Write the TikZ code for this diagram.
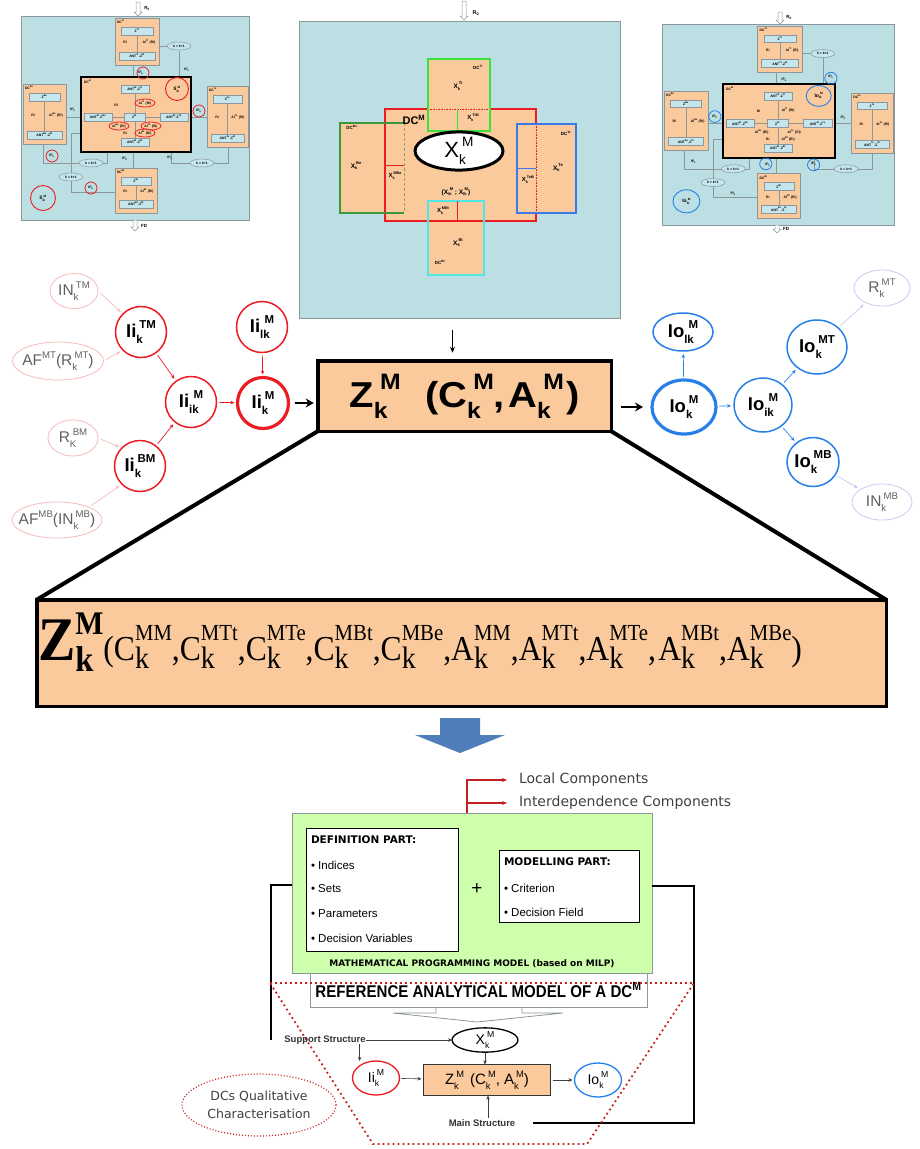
\documentclass[tikz,border=0pt]{standalone}
\usepackage{fontspec}
\usepackage{graphicx}
\setmainfont{Liberation Sans}
\newfontfamily\verd{DejaVu Sans}
\newfontfamily\tms{Liberation Serif}
\usetikzlibrary{shapes.geometric,arrows.meta,calc}

\definecolor{peach}{RGB}{251,202,156}
\definecolor{panel}{RGB}{187,223,227}
\definecolor{cellb}{RGB}{196,230,236}
\definecolor{thgray}{RGB}{140,150,155}
\definecolor{iired}{RGB}{235,28,36}
\definecolor{ioblue}{RGB}{38,128,232}
\definecolor{fpink}{RGB}{246,186,186}
\definecolor{fblue}{RGB}{196,204,240}
\definecolor{fgray}{RGB}{95,95,95}
\definecolor{mint}{RGB}{206,255,172}
\definecolor{barrow}{RGB}{79,126,187}
\definecolor{bracketred}{RGB}{192,32,32}
\definecolor{dotred}{RGB}{200,30,30}
\definecolor{tgreen}{RGB}{60,225,60}
\definecolor{dgreen}{RGB}{60,150,60}
\definecolor{tblue}{RGB}{60,120,230}
\definecolor{tcyan}{RGB}{80,230,230}
\definecolor{olivel}{RGB}{150,160,80}

\newcommand\fsz[1]{\fontsize{#1}{#1}\selectfont}
\newcommand\zb[1]{\makebox[0pt]{#1}}

% base letter with a lowered index and a raised index, both in the text font
\makeatletter
\newdimen\scrd
\newcommand\tss[3]{#1\begingroup
  \scrd=\f@size pt \scrd=0.62\scrd
  \edef\scrs{\strip@pt\scrd}%
  \setbox0\hbox{\fontsize{\scrs}{\scrs}\selectfont #2}%
  \setbox2\hbox{\fontsize{\scrs}{\scrs}\selectfont #3}%
  \rlap{\raisebox{-0.3em}{\copy0}}%
  \kern0.45\wd0
  \raisebox{0.5em}{\copy2}%
  \scrd=0.55\wd0 \ifdim\wd2<\scrd \kern\dimexpr\scrd-\wd2\relax\fi
  \endgroup}
\makeatother
\newcommand\tsp[2]{\tss{#1}{}{#2}}

\tikzset{
  every node/.style={inner sep=0pt, outer sep=0pt},
  thline/.style={draw=thgray, line width=0.5pt},
  thfont/.style={font={\fsz{3.4}\bfseries}},
  thell/.style={ellipse, thline, fill=cellb, minimum width=24pt, minimum height=8pt, thfont},
  iinode/.style={circle, draw=iired, line width=1.5pt, fill=white, minimum size=51pt, font={\fsz{18.5}\bfseries}},
  ionode/.style={ellipse, draw=ioblue, line width=1.5pt, fill=white, font={\fsz{18.5}\bfseries}},
  faintr/.style={ellipse, draw=fpink, line width=0.8pt, text=fgray, font={\fsz{15.5}}},
  faintb/.style={ellipse, draw=fblue, line width=0.8pt, text=fgray, font={\fsz{15.5}}},
  redarr/.style={draw=iired, line width=0.7pt, -{Stealth[length=4pt,width=3.5pt]}, shorten <=3pt, shorten >=3pt},
  pinkarr/.style={redarr, draw=fpink},
  bluearr/.style={redarr, draw=ioblue},
  lbarr/.style={redarr, draw=fblue},
  blkarr/.style={draw=black, line width=2.4pt, -{Stealth[length=8pt,width=9pt]}},
  smarr/.style={draw=black!75, line width=0.6pt, -{Stealth[length=4pt,width=3.5pt]}},
  bulletitem/.style={anchor=west, font={\fsz{11.5}}},
  parttitle/.style={anchor=west, font={\verd\bfseries\fsz{10.5}}},
}

% one decision centre unit of the small overview panels
\newcommand\dcunit[5]{%
  \draw[thline,fill=peach] (#1,#2) rectangle (#3,#4);
  \node[thfont,anchor=north west] at (#1+2,#2+2) {DC\textsuperscript{#5}};
  \draw[thline] ({(#1+#3)/2},#2+17) -- ({(#1+#3)/2},#4-13);
  \draw[thline,fill=cellb] (#1+6,#2+9) rectangle (#3-6,#2+17);
  \node[thfont] at ({(#1+#3)/2},#2+13) {Z\textsuperscript{#5}};
  \node[thfont] at (#1+10,{(#2+#4)/2+1}) {Ri};
  \node[thfont] at (#3-10,{(#2+#4)/2+1}) {AI\textsuperscript{#5} (Ri)};
  \draw[thline,fill=cellb] (#1+4,#4-13) rectangle (#3-4,#4-5);
  \node[thfont] at ({(#1+#3)/2},#4-9) {ANT\textsuperscript{#5}-Z\textsuperscript{M}};
}

% central unit DC^M of the overview panels
\newcommand\dccentre{%
  \draw[black,line width=1.3pt,fill=peach] (60,61) rectangle (170,136);
  \node[thfont,anchor=north west] at (63,64) {DC\textsuperscript{M}};
  \draw[thline] (114,77) -- (114,97);
  \draw[thline] (114,105) -- (114,122);
  \draw[thline] (91,101) -- (103,101);
  \draw[thline] (124,101) -- (139,101);
  \draw[thline,fill=cellb] (100,69) rectangle (128,77);
  \node[thfont] at (114,73) {ANT\textsuperscript{M}-Z\textsuperscript{Tt}};
  \draw[thline,fill=cellb] (63,97) rectangle (91,105);
  \node[thfont] at (77,101) {ANT\textsuperscript{M}-Z\textsuperscript{Be}};
  \draw[thline,fill=cellb] (139,97) rectangle (167,105);
  \node[thfont] at (153,101) {ANT\textsuperscript{M}-Z\textsuperscript{Te}};
  \draw[thline,fill=cellb] (103,97) rectangle (124,105);
  \node[thfont] at (113.5,101) {Z\textsuperscript{M}};
  \draw[thline,fill=cellb] (100,122) rectangle (128,130);
  \node[thfont] at (114,126) {ANT\textsuperscript{M}-Z\textsuperscript{Bt}};
  \node[thfont] at (95,89) {Ri};
  \node[thfont] at (124,87) {AI\textsuperscript{Tt} (Ri)};
  \node[thfont] at (98,110) {AI\textsuperscript{Be} (Ri)};
  \node[thfont] at (130,110) {AI\textsuperscript{Te} (Ri)};
  \node[thfont] at (124,117) {AI\textsuperscript{Bt} (Ri)};
  \node[thfont] at (104,117) {Ri};
}

% whole overview panel, local frame 228 x 204
\newcommand\dcthumb{%
  \draw[thline,fill=panel] (0,0) rectangle (228,204);
  \draw[thline] (112,49) -- (112,61);
  \draw[thline] (138,30) -- (146,30);
  \draw[thline] (158,35) -- (158,61);
  \draw[thline] (45,101) -- (60,101);
  \draw[thline] (170,101) -- (186,101);
  \draw[thline] (112,136) -- (112,152);
  \draw[thline] (22,128) -- (22,147) -- (86,147) -- (86,136);
  \draw[thline] (94,176) -- (50,176) -- (50,117) -- (60,117);
  \draw[thline] (150,136) -- (150,147) -- (207,147) -- (207,131);
  \foreach \p in {(158,30),(70,147),(50,161),(181,147)}
    \node[thell] at \p {k > k+1};
  \dcunit{94}{2}{138}{49}{Tt}
  \dcunit{2}{68}{45}{128}{Be}
  \dcunit{186}{70}{227}{131}{Te}
  \dcunit{94}{152}{136}{197}{Bt}
  \dccentre
  \foreach \p in {(120,57),(166,54),(52,94),(178,95),(104,143),(31,140),(70,172),(149,142)}
    \node[thfont] at \p {IP\textsubscript{k}};
}

% hollow downward flow arrow: x, top, bottom
\newcommand\hollowdown[3]{%
  \draw[thgray, fill=white, line width=0.5pt] (#1-2,#2) -- (#1+2,#2) -- (#1+2,#3-4) -- (#1+4,#3-4) -- (#1,#3) -- (#1-4,#3-4) -- (#1-2,#3-4) -- cycle;
}

% terms of the detailed objective
\newcommand\zterm{\textbf{\fsz{62}Z}\rlap{\raisebox{-11pt}{\fsz{36}\textbf{k}}}\raisebox{26pt}{\fsz{33}\textbf{M}}}
\newcommand\fterm[2]{{\fsz{35}#1}\rlap{\raisebox{-8pt}{\fsz{31}k}}\raisebox{20pt}{\fsz{23}#2}}
\newcommand\fcomma{{\fsz{35},}}

\begin{document}
\begin{tikzpicture}[x=1pt,y=-1pt]
\useasboundingbox (0,0) rectangle (919,1149);

% ---------- left overview panel ----------
\begin{scope}[shift={(21,16)}]
  \dcthumb
  \node[circle, draw=iired, line width=0.9pt, minimum size=23pt, font={\fsz{5}\bfseries}] (tlI) at (156,73) {\zb{\tss{Ii}{lk}{M}}};
  \node[circle, draw=iired, line width=0.9pt, minimum size=25pt, font={\fsz{5}\bfseries}] (tlO) at (22,182) {\zb{\tss{Ii}{lk}{M}}};
  \foreach \p in {(122,57),(178,95),(31,140),(70,172)}
    \draw[iired, line width=0.8pt] \p circle[radius=6pt];
  \foreach \p in {(124,87),(98,110),(130,110),(124,117)}
    \draw[iired, line width=0.8pt] \p ellipse[x radius=10pt, y radius=4pt];
\end{scope}
\hollowdown{138}{2}{16}
\node[font={\fsz{4.5}\bfseries}] (tlr) at (147,8) {R\textsubscript{0}};
\hollowdown{135}{220}{231}
\node[font={\fsz{4.5}\bfseries}] (tlf) at (144,226) {FD};

% ---------- right overview panel ----------
\begin{scope}[shift={(662,24)}, xscale=1.0175, yscale=0.985]
  \dcthumb
  \node[ellipse, draw=ioblue, line width=0.9pt, minimum width=25pt, minimum height=21pt, font={\fsz{5}\bfseries}] (trI) at (154,73) {\zb{\tss{Io}{lk}{M}}};
  \node[ellipse, draw=ioblue, line width=0.9pt, minimum width=27pt, minimum height=23pt, font={\fsz{5}\bfseries}] (trO) at (24,180) {\zb{\tss{Io}{lk}{M}}};
  \foreach \p in {(166,55),(52,94),(102,142),(149,143)}
    \draw[ioblue, line width=0.8pt] \p circle[radius=6pt];
\end{scope}
\hollowdown{780}{12}{24}
\node[font={\fsz{4.5}\bfseries}] (trr) at (789,17) {R\textsubscript{0}};
\hollowdown{777}{225}{233}
\node[font={\fsz{4.5}\bfseries}] (trf) at (786,229) {FD};

% ---------- centre panel: DC^M and its neighbours ----------
\node[draw=thgray, line width=0.6pt, fill=panel, minimum width=321pt, minimum height=297pt] (panel) at (460,170) {};
\hollowdown{464}{1}{20}
\node[font={\fsz{5.5}\bfseries}] (r0c) at (476,13) {R\textsubscript{0}};
\fill[peach] (385,109) rectangle (536,221);
\fill[peach] (428,59) rectangle (490,131);
\fill[peach] (340,123) rectangle (404,213);
\fill[peach] (517,124) rectangle (576,213);
\fill[peach] (428,201) rectangle (484,275);
\draw[iired, line width=2.2pt] (428,109) -- (385,109) -- (385,221) -- (536,221) -- (536,213);
\draw[iired, line width=2.2pt] (536,124) -- (536,109) -- (490,109);
\draw[iired, line width=0.6pt, densely dotted] (428,109) -- (490,109);
\draw[iired, line width=0.6pt, densely dotted] (536,124) -- (536,213);
\draw[tgreen, line width=1.3pt] (428,59) rectangle (490,131);
\draw[dgreen, line width=1.3pt] (404,123) -- (340,123) -- (340,213) -- (404,213);
\draw[olivel, line width=0.8pt, densely dashed] (404,123) -- (404,213);
\draw[tblue, line width=1.3pt] (517,124) rectangle (576,213);
\draw[tcyan, line width=1.3pt] (428,201) rectangle (484,275);
\draw[tgreen, line width=1pt] (457,109) -- (457,131);
\draw[iired, line width=1pt] (385,165) -- (404,165);
\draw[tblue, line width=1pt] (517,168) -- (536,168);
\draw[iired, line width=1pt] (457,201) -- (457,221);
\node[ellipse, draw=black, line width=3pt, fill=white, minimum width=88pt, minimum height=30pt, font={\fsz{22}}] (xk) at (459,151) {\zb{\tss{X}{k}{M}}};
\node[font={\fsz{11}\bfseries}] (dcm) at (414,120) {DC\textsuperscript{M}};
\node[font={\fsz{4.5}\bfseries}] (dcti) at (478,67) {DC\textsuperscript{Ti}};
\node[font={\fsz{6.5}\bfseries}] (xti) at (458,86) {\tss{X}{k}{Ti}};
\node[font={\fsz{6}\bfseries}] (xtim) at (473,118) {\tss{X}{k}{TiM}};
\node[font={\fsz{4.5}\bfseries}] (dcbe) at (352,127) {DC\textsuperscript{Be}};
\node[font={\fsz{6.5}\bfseries}] (xbe) at (356,166) {\tss{X}{k}{Be}};
\node[font={\fsz{6}\bfseries}] (xmbe) at (395,176) {\tss{X}{k}{MBe}};
\node[font={\fsz{4.5}\bfseries}] (dcte) at (566,133) {DC\textsuperscript{Te}};
\node[font={\fsz{6.5}\bfseries}] (xte) at (558,168) {\tss{X}{k}{Te}};
\node[font={\fsz{6}\bfseries}] (xtem) at (528,180) {\tss{X}{k}{TeM}};
\node[font={\fsz{6.5}\bfseries}] (xpair) at (456,192) {(\tss{X}{ik}{M} ; \tss{X}{lk}{M})};
\node[font={\fsz{6}\bfseries}] (xmbt) at (443,211) {\tss{X}{k}{MBt}};
\node[font={\fsz{6.5}\bfseries}] (xbt) at (458,243) {\tss{X}{k}{Bt}};
\node[font={\fsz{4.5}\bfseries}] (dcbt) at (440,262) {DC\textsuperscript{Bt}};

% ---------- aggregated decision centre ----------
\node[draw=black, line width=3.5pt, fill=peach, minimum width=293.5pt, minimum height=70.5pt, font={\fsz{36}\bfseries}] (zbox) at (464.5,396)
  {\raisebox{4pt}{\resizebox{230pt}{\height}{\tss{Z}{k}{M}\hspace{22pt}(\tss{C}{k}{M},\hspace{3pt}\tss{A}{k}{M}\hspace{2pt})}}};
\draw[black, line width=1pt, -{Stealth[length=6pt,width=5pt]}, shorten <=11pt, shorten >=8pt]
  ([xshift=-12pt]zbox.north |- panel.south) -- ([xshift=-12pt]zbox.north);

% ---------- incoming information ----------
\node[faintr, minimum width=48pt, minimum height=35pt] (inTM) at (74,291) {\zb{\tss{IN}{k}{TM}}};
\node[faintr, minimum width=91pt, minimum height=38pt] (afMT) at (58,361) {\zb{\tsp{AF}{MT}(\tss{R}{k}{MT})}};
\node[faintr, minimum width=50pt, minimum height=36pt] (rBM) at (73,438) {\zb{\tss{R}{K}{BM}}};
\node[faintr, minimum width=90pt, minimum height=36pt] (afMB) at (57,520) {\zb{\tsp{AF}{MB}(\tss{IN}{k}{MB})}};
\node[iinode] (iiTM) at (141,332) {\zb{\tss{Ii}{k}{TM}}};
\node[iinode] (iiBM) at (140,466) {\zb{\tss{Ii}{k}{BM}}};
\node[iinode] (iiik) at (191,402) {\zb{\tss{Ii}{ik}{M}}};
\node[iinode] (iilk) at (262,327) {\zb{\tss{Ii}{lk}{M}}};
\node[iinode, line width=3.2pt] (iik) at (263,403) {\zb{\tss{Ii}{k}{M}}};
\draw[pinkarr] (inTM.east) -- (iiTM.north west);
\draw[pinkarr] (afMT.east) -- (iiTM.south west);
\draw[pinkarr] (rBM.east) -- (iiBM.north west);
\draw[pinkarr] (afMB.north east) -- (iiBM.south west);
\draw[redarr] (iiTM) -- (iiik);
\draw[redarr] (iiBM) -- (iiik);
\draw[redarr] (iiik) -- (iik);
\draw[redarr] (iilk) -- (iik);
\draw[blkarr, shorten <=6pt, shorten >=4pt] (iik) -- (iik -| zbox.west);

% ---------- outgoing information ----------
\node[ionode, minimum width=60pt, minimum height=38pt] (iolk) at (683,332) {\zb{\tss{Io}{lk}{M}}};
\node[ionode, line width=3.2pt, minimum width=64pt, minimum height=54pt] (iok) at (684,407) {\zb{\tss{Io}{k}{M}}};
\node[ionode, minimum width=58pt, minimum height=54pt] (ioik) at (763,405) {\zb{\tss{Io}{ik}{M}}};
\node[ionode, minimum width=60pt, minimum height=54pt] (ioMT) at (817,347) {\zb{\tss{Io}{k}{MT}}};
\node[ionode, minimum width=52pt, minimum height=49pt] (ioMB) at (813,462) {\zb{\tss{Io}{k}{MB}}};
\node[faintb, minimum width=56pt, minimum height=36pt] (rMT) at (882,288) {\zb{\tss{R}{k}{MT}}};
\node[faintb, minimum width=60pt, minimum height=36pt] (inMB) at (882,502) {\zb{\tss{IN}{k}{MB}}};
\draw[bluearr] (iok) -- (iolk);
\draw[bluearr] (iok) -- (ioik);
\draw[bluearr] (ioik) -- (ioMT);
\draw[bluearr] (ioik) -- (ioMB);
\draw[lbarr] (ioMT) -- (rMT);
\draw[lbarr] (ioMB) -- (inMB);
\draw[blkarr, shorten <=10pt, shorten >=9pt] (iok -| zbox.east) -- (iok);

% ---------- detailed objective ----------
\node[draw=black, line width=3.5pt, fill=peach, minimum width=849.5pt, minimum height=106.5pt] (bigbox) at (461.5,653) {};
\draw[line width=4pt] (zbox.south west) -- (bigbox.north west);
\draw[line width=4pt] (zbox.south east) -- (bigbox.north east);
\node[anchor=base west, font=\tms] (formula) at (38,660) {\resizebox{764pt}{\height}{\zterm{\fsz{35}(}\fterm{C}{MM}\fcomma\fterm{C}{MTt}\fcomma\fterm{C}{MTe}\fcomma\fterm{C}{MBt}\fcomma\fterm{C}{MBe}\fcomma\fterm{A}{MM}\fcomma\fterm{A}{MTt}\fcomma\fterm{A}{MTe}\fcomma{} \fterm{A}{MBt}\fcomma\fterm{A}{MBe}{\fsz{35})}}};

% ---------- transition arrow ----------
\fill[barrow] (440,718) -- (480,718) -- (480,735) -- (505,735) -- (460,753) -- (415,735) -- (440,735) -- cycle;

% ---------- reference analytical model ----------
\node[draw=thgray, line width=0.6pt, fill=white, minimum width=337pt, minimum height=34pt] (ram) at (478.5,990)
  {\raisebox{-2pt}{\resizebox{326pt}{\height}{\fsz{17}\bfseries REFERENCE ANALYTICAL MODEL OF A DC\textsuperscript{M}}}};
\draw[thgray, line width=0.8pt] (436,1007) -- (436,1013) -- (393,1013) -- (477,1022) -- (563,1013) -- (522,1013) -- (522,1007);

\node[draw=thgray, line width=0.6pt, fill=mint, minimum width=360pt, minimum height=160pt] (mpm) at (472,893) {};
\node[draw=black, line width=1.5pt, fill=white, minimum width=152pt, minimum height=123pt] (defp) at (382.5,890) {};
\node[parttitle] (deft) at (311,840) {DEFINITION PART:};
\node[bulletitem] (d1) at (311,865) {• Indices};
\node[bulletitem] (d2) at (311,889) {• Sets};
\node[bulletitem] (d3) at (311,914) {• Parameters};
\node[bulletitem] (d4) at (311,938) {• Decision Variables};
\node[font={\fsz{19}}] (plus) at (477,889) {+};
\node[draw=black, line width=1.5pt, fill=white, minimum width=140pt, minimum height=72pt] (modp) at (569.5,886.5) {};
\node[parttitle] (modt) at (504,862) {MODELLING PART:};
\node[bulletitem] (m1) at (504,888) {• Criterion};
\node[bulletitem] (m2) at (504,912) {• Decision Field};
\node[font={\verd\bfseries\fsz{9}}] (mpmt) at (472,964) {MATHEMATICAL PROGRAMMING MODEL (based on MILP)};

% components bracket
\coordinate (brk) at (467,780);
\node[anchor=west, font={\verd\fsz{14}}, text=darkgray] (lc) at (519,780) {Local Components};
\node[anchor=west, font={\verd\fsz{14}}, text=darkgray] (ic) at (519,803) {Interdependence Components};
\draw[bracketred, line width=1.4pt, -{Stealth[length=5pt,width=4pt]}] (brk |- mpm.north) -- (brk) -- ([xshift=-12pt]lc.west);
\draw[bracketred, line width=1.4pt, -{Stealth[length=5pt,width=4pt]}] (brk |- ic.west) -- ([xshift=-12pt]ic.west);

% structure of the reference model
\coordinate (lb) at (271,1040);
\coordinate (rb) at (694,1123);
\coordinate (rbe) at (533,1123);
\draw[line width=2pt] ([yshift=8pt]mpm.west) -- ([yshift=8pt]mpm.west -| lb) -- (lb);
\draw[line width=2pt] ([yshift=7pt]mpm.east) -- ([yshift=7pt]mpm.east -| rb) -- (rb) -- (rbe);

\draw[dotred, line width=1.8pt, dash pattern=on 1.8pt off 3.2pt] (270,983) -- (694,983) -- (587,1144) -- (373,1144) -- cycle;

\node[font={\fsz{9.5}\bfseries}, text=black!80] (sup) at (325,1040) {Support Structure};
\node[ellipse, draw=black, line width=1.3pt, fill=white, minimum width=66pt, minimum height=21pt, font={\fsz{14}}] (xkb) at (485,1040) {\zb{\tss{X}{k}{M}}};
\node[ellipse, draw=iired, line width=1.3pt, fill=white, minimum width=47pt, minimum height=34pt, font={\fsz{14}}] (iib) at (376,1078) {\zb{\tss{Ii}{k}{M}}};
\node[draw=black!80, line width=1.3pt, fill=peach, minimum width=127pt, minimum height=31pt, font={\fsz{15}}] (zb) at (487,1080) {\tss{Z}{k}{M}\hspace{6pt}(\tss{C}{k}{M}, \tss{A}{k}{M})};
\node[ellipse, draw=ioblue, line width=1.3pt, fill=white, minimum width=47pt, minimum height=34pt, font={\fsz{14}}] (iob) at (598,1080) {\zb{\tss{Io}{k}{M}}};
\node[font={\fsz{9.5}\bfseries}, text=black!80] (mst) at (482,1123) {Main Structure};
\draw[smarr] (sup.east) -- (xkb.west);
\draw[smarr] ([xshift=-6pt]sup.south east) -- ([xshift=-6pt]sup.south east |- iib.north);
\draw[smarr] (xkb.south) -- (xkb.south |- zb.north);
\draw[smarr, shorten <=2pt, shorten >=2pt] (iib) -- (zb);
\draw[smarr, shorten <=2pt, shorten >=2pt] (zb) -- (iob);
\draw[smarr, shorten <=2pt] ([xshift=6pt]mst.north) -- ([xshift=6pt]mst.north |- zb.south);

\node[ellipse, draw=dotred, line width=1.2pt, dash pattern=on 1pt off 2pt, minimum width=154pt, minimum height=62pt, align=center, font={\verd\fsz{12.5}}, text=darkgray] (dcq) at (259,1105) {DCs Qualitative\\[6pt]Characterisation};
\end{tikzpicture}
\end{document}
